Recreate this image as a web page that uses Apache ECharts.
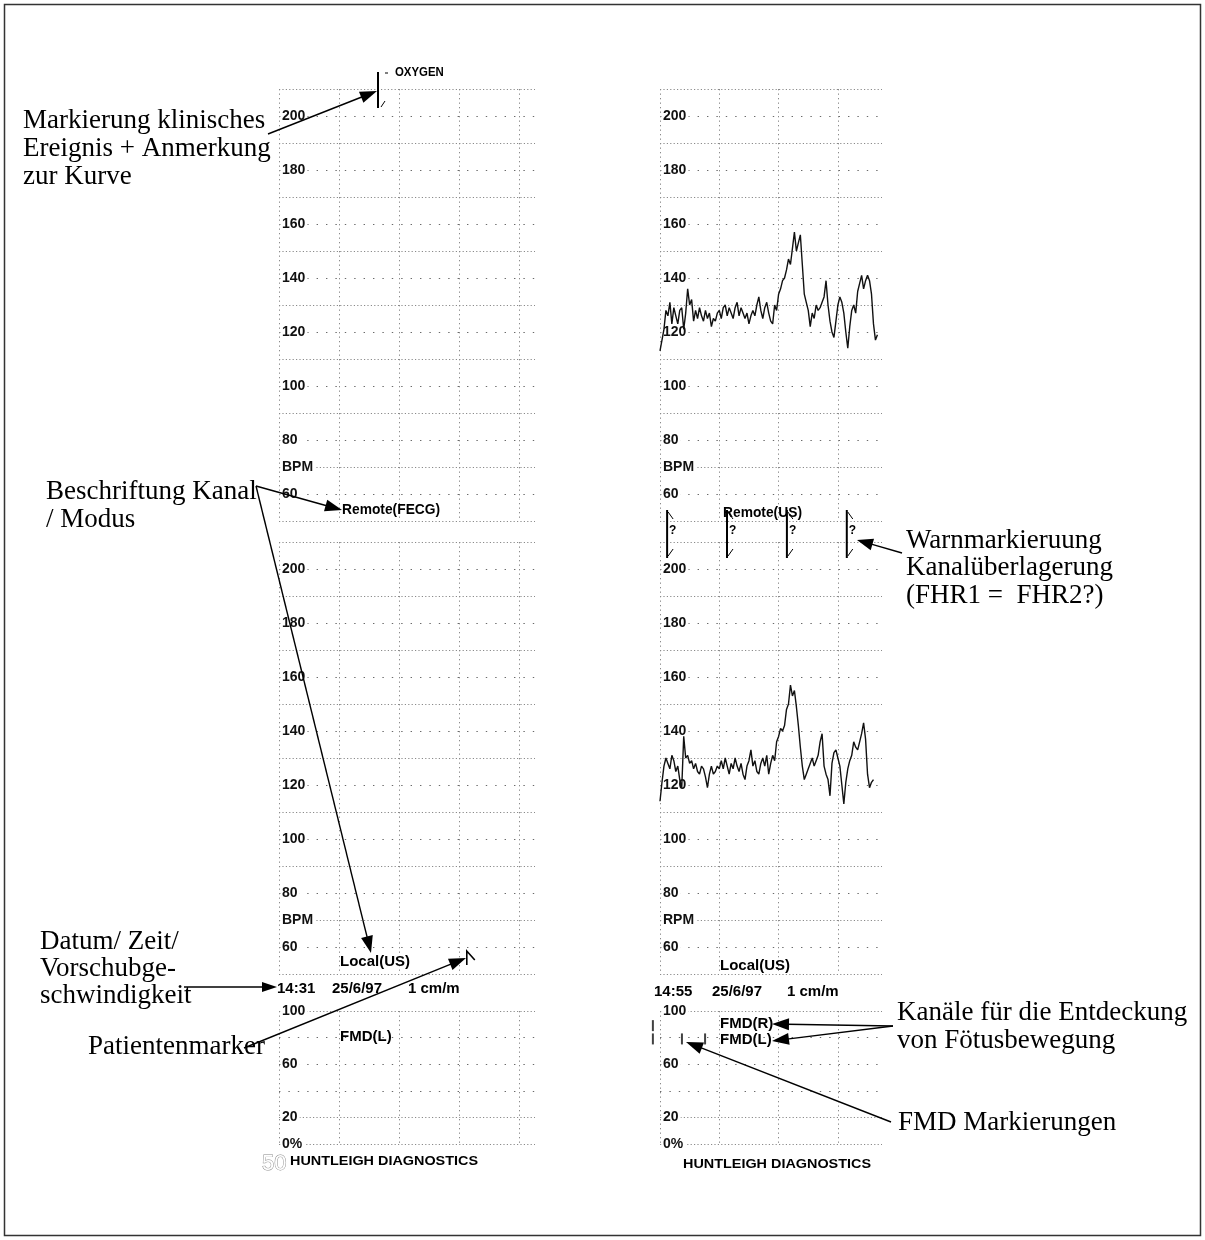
<!DOCTYPE html>
<html><head><meta charset="utf-8">
<script src="https://cdn.jsdelivr.net/npm/echarts@6/dist/echarts.min.js"></script>
<style>html,body{margin:0;padding:0;background:#fff}#c{width:1205px;height:1240px}</style>
</head><body><div id="c"></div><script>
// ---- data ----
const SAMPLE_MIN = 1 / 30; // minutes between FHR samples (strip paper 1 cm/min)
const fhrRemoteUS = [113,117,121,128,126,131,123,129,126,123,128,129,121,127,136,130,132,124,128,125,
  129,126,124,128,125,127,122,125,124,127,128,125,129,130,126,129,127,125,129,131,
  126,129,127,125,127,123,126,128,126,130,133,128,125,129,131,127,124,123,130,128,
  134,136,139,140,143,147,145,151,157,150,153,156,145,134,131,128,122,127,125,130,
  128,129,131,133,139,130,124,120,118,124,130,133,131,127,120,114,122,128,130,127,
  135,138,141,136,139,141,139,134,123,117,119];
const fhrLocalUS = [114,121,127,130,128,126,131,129,125,127,122,119,138,130,131,128,129,126,128,125,
  124,127,126,123,119,124,127,124,125,127,126,129,126,130,127,124,128,126,130,127,
  125,128,124,122,127,129,133,127,129,125,124,128,130,127,131,124,128,131,129,136,
  138,141,140,142,148,150,157,153,155,149,142,134,127,122,124,126,128,130,127,129,
  131,136,139,127,124,122,116,128,132,133,130,127,120,113,121,126,129,131,136,134,
  133,136,139,143,137,124,119,121,122];
const fmdRightTimes = [-0.12];            // FMD(R) marks, minutes
const fmdLeftTimes = [-0.12, 0.37, 0.76]; // FMD(L) marks, minutes
const FMD_R_LEVEL = 89, FMD_L_LEVEL = 79;
const warnTimes = [0.12, 1.13, 2.14, 3.15]; // FHR1 = FHR2? warnings, right strip
const eventTime = 1.65;   // OXYGEN event, left strip
const patientMarkTime = 3.13; // patient marker, left strip
const bpmLabels = {60:'60',80:'80',100:'100',120:'120',140:'140',160:'160',180:'180',200:'200'};
const fmdLabels = {100:'100',60:'60',20:'20',0:'0%'};
const stripLeft = {date:'25/6/97', time:'14:31', speed:'1 cm/m', top:'Remote(FECG)', bottom:'Local(US)'};
const stripRight = {date:'25/6/97', time:'14:55', speed:'1 cm/m', top:'Remote(US)', bottom:'Local(US)'};

// ---- layout ----
const SANS = "'Liberation Sans',Arial,sans-serif";
const SERIF = "'Liberation Serif','Times New Roman',serif";
const strips = [
  {left:279, width:256, max:256/60},
  {left:660, width:222, max:222/59.3}
];
const panels = [
  {top:89, height:432, type:'bpm'},
  {top:542, height:432, type:'bpm'},
  {top:1011, height:133, type:'fmd'}
];
const grids = [], xAxes = [], yAxes = [];
const sparse = {color:'#6a6a6a', width:1, type:[1.4,8]};
const dense = {color:'#8a8a8a', width:1, type:[1.2,2.2]};
strips.forEach((s, si) => {
  panels.forEach((p, pi) => {
    const g = grids.length;
    grids.push({left:s.left, top:p.top, width:s.width, height:p.height});
    xAxes.push({type:'value', gridIndex:g, min:0, max:s.max, interval:1,
      axisLine:{show:false}, axisTick:{show:false}, axisLabel:{show:false},
      splitLine:{show:true, showMaxLine:false, lineStyle:{color:'#8a8a8a', width:1, type:[1.3,3.2]}}});
    const isBpm = p.type === 'bpm';
    const unitLabel = (si === 1 && pi === 1) ? 'RPM' : 'BPM';
    yAxes.push({type:'value', gridIndex:g, min:isBpm?50:0, max:isBpm?210:100, interval:isBpm?10:20,
      axisLine:{show:false}, axisTick:{show:false},
      axisLabel:{show:true, inside:true, margin:2, color:'#111', fontWeight:'bold', fontSize:14,
        fontFamily:SANS, backgroundColor:'#fff', padding:[0,2,0,1],
        formatter: v => isBpm ? (v === 70 ? unitLabel : (bpmLabels[v] || '')) : (fmdLabels[v] || '')},
      splitLine:{show:true, lineStyle:Object.assign({}, sparse,
        {color: isBpm ? ['rgba(0,0,0,0)','#6a6a6a'] : ['rgba(0,0,0,0)','rgba(0,0,0,0)','#6a6a6a','#6a6a6a','#6a6a6a','rgba(0,0,0,0)']})}});
    yAxes.push({type:'value', gridIndex:g, min:isBpm?50:0, max:isBpm?210:100, interval:20,
      axisLine:{show:false}, axisTick:{show:false}, axisLabel:{show:false},
      splitLine:{show:true, lineStyle:Object.assign({}, dense,
        {color: isBpm ? '#8a8a8a' : ['#8a8a8a','#8a8a8a','rgba(0,0,0,0)','rgba(0,0,0,0)','rgba(0,0,0,0)','#8a8a8a']})}});
  });
});

const toPairs = arr => arr.map((v, i) => [i * SAMPLE_MIN, v]);
const series = [];
grids.forEach((g, i) => series.push({type:'line', xAxisIndex:i, yAxisIndex:2*i, data:[], silent:true}));
series.push({type:'line', xAxisIndex:3, yAxisIndex:6, data:toPairs(fhrRemoteUS), showSymbol:false,
  lineStyle:{color:'#111', width:1.4}, animation:false, z:5});
series.push({type:'line', xAxisIndex:4, yAxisIndex:8, data:toPairs(fhrLocalUS), showSymbol:false,
  lineStyle:{color:'#111', width:1.4}, animation:false, z:5});
series.push({type:'scatter', xAxisIndex:5, yAxisIndex:10, clip:false, symbol:'rect', symbolSize:[2,11],
  itemStyle:{color:'#111'}, animation:false,
  data: fmdRightTimes.map(t => [t, FMD_R_LEVEL]).concat(fmdLeftTimes.map(t => [t, FMD_L_LEVEL]))});

const chart = echarts.init(document.getElementById('c'), null, {renderer:'canvas'});
chart.setOption({backgroundColor:'#fff', animation:false, grid:grids, xAxis:xAxes, yAxis:yAxes, series:series});

// ---- annotations ----
function txt(s, x, y, font, extra, sx) {
  return {type:'text', z:100, x:x, y:y, scaleX:sx || 1,
    style:Object.assign({text:s, x:0, y:0, font:font, fill:'#000', align:'left', verticalAlign:'middle'}, extra || {})};
}
function arrow(x1, y1, x2, y2, len, half) {
  len = len || 17; half = half || 6;
  const dx = x2 - x1, dy = y2 - y1, d = Math.hypot(dx, dy), ux = dx / d, uy = dy / d;
  const bx = x2 - ux * len, by = y2 - uy * len;
  return [
    {type:'line', z:100, shape:{x1:x1, y1:y1, x2:bx + ux * 2, y2:by + uy * 2}, style:{stroke:'#000', lineWidth:1.4}},
    {type:'polygon', z:100, shape:{points:[[x2, y2], [bx - uy * half, by + ux * half], [bx + uy * half, by - ux * half]]}, style:{fill:'#000'}}
  ];
}
const SF = '27px ' + SERIF;
const SM = 'bold 15px ' + SANS;
const g = [];
g.push({type:'rect', z:1, shape:{x:4.5, y:4.5, width:1196, height:1231}, style:{fill:'none', stroke:'#333', lineWidth:1.5}});
// annotation text
[['Markierung klinisches',121],['Ereignis + Anmerkung',149],['zur Kurve',177]].forEach(a => g.push(txt(a[0], 23, a[1], SF)));
[['Beschriftung Kanal',492],['/ Modus',520]].forEach(a => g.push(txt(a[0], 46, a[1], SF)));
[['Datum/ Zeit/',942],['Vorschubge-',969],['schwindigkeit',996]].forEach(a => g.push(txt(a[0], 40, a[1], SF)));
g.push(txt('Patientenmarker', 88, 1047, SF));
[['Warnmarkieruung',541],['Kanalüberlagerung',568],['(FHR1 =  FHR2?)',596]].forEach(a => g.push(txt(a[0], 906, a[1], SF)));
[['Kanäle für die Entdeckung',1013],['von Fötusbewegung',1041]].forEach(a => g.push(txt(a[0], 897, a[1], SF)));
g.push(txt('FMD Markierungen', 898, 1123, SF));
// arrows
g.push(...arrow(268, 134, 377, 91));
g.push(...arrow(256, 486, 342, 510));
g.push(...arrow(256, 486, 371, 953));
g.push(...arrow(184, 987, 277, 987, 15, 5));
g.push(...arrow(244, 1048, 466, 958));
g.push(...arrow(902, 553, 857, 540, 16, 6));
g.push(...arrow(893, 1026, 772, 1024));
g.push(...arrow(893, 1026, 772, 1041));
g.push(...arrow(891, 1122, 686, 1042));
// strip texts
[[stripLeft, 0], [stripRight, 1]].forEach(([st, si]) => {
  g.push(txt(st.top, si ? 723 : 342, si ? 513 : 510, SM, null, 0.92));
  g.push(txt(st.bottom, si ? 720 : 340, si ? 966 : 962, SM));
  const ty = si ? 992 : 989;
  g.push(txt(st.time, si ? 654 : 277, ty, SM));
  g.push(txt(st.date, si ? 712 : 332, ty, SM));
  g.push(txt(st.speed, si ? 787 : 408, ty, SM));
  g.push(txt('HUNTLEIGH DIAGNOSTICS', si ? 683 : 290, si ? 1165 : 1162, 'bold 12px ' + SANS, null, 1.2));
});
g.push(txt('FMD(L)', 340, 1037, SM));
g.push(txt('FMD(R)', 720, 1024, SM));
g.push(txt('FMD(L)', 720, 1040, SM));
g.push(txt('50', 262, 1164, '22px ' + SANS, {fill:'#fff', stroke:'#888', lineWidth:0.9}));
// event marker (OXYGEN)
const ex = chart.convertToPixel({xAxisIndex:0}, eventTime);
g.push({type:'polyline', z:100, shape:{points:[[ex, 72], [ex, 108]]}, style:{stroke:'#000', lineWidth:2}});
g.push({type:'line', z:100, shape:{x1:ex + 3, y1:107, x2:ex + 7, y2:101}, style:{stroke:'#000', lineWidth:1}});
g.push({type:'line', z:100, shape:{x1:ex + 7, y1:73, x2:ex + 10, y2:73}, style:{stroke:'#000', lineWidth:1}});
g.push(txt('OXYGEN', ex + 17, 73, 'bold 12px ' + SANS, null, 0.95));
// patient marker
const px = chart.convertToPixel({xAxisIndex:1}, patientMarkTime);
g.push({type:'polyline', z:100, shape:{points:[[px, 965], [px, 951], [px + 8, 960]]}, style:{stroke:'#000', lineWidth:1.6}});
// warning markers
warnTimes.forEach(t => {
  const wx = chart.convertToPixel({xAxisIndex:4}, t);
  g.push({type:'line', z:100, shape:{x1:wx, y1:510, x2:wx, y2:558}, style:{stroke:'#000', lineWidth:2}});
  g.push({type:'line', z:100, shape:{x1:wx + 1, y1:512, x2:wx + 6, y2:519}, style:{stroke:'#000', lineWidth:1}});
  g.push({type:'line', z:100, shape:{x1:wx + 1, y1:556, x2:wx + 6, y2:549}, style:{stroke:'#000', lineWidth:1}});
  g.push(txt('?', wx + 2, 531, 'bold 12px ' + SANS));
});
chart.setOption({graphic:{elements:g}});
</script></body></html>
